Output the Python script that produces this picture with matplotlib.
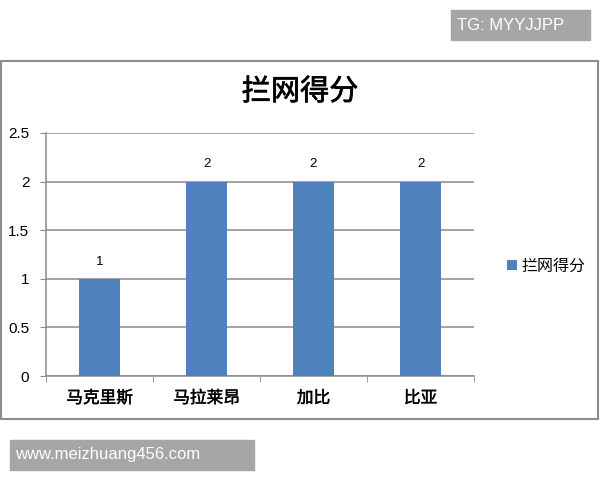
import matplotlib.pyplot as plt
import matplotlib.patheffects as pe
from matplotlib.patches import Rectangle

plt.rcParams['font.family'] = ['Noto Sans CJK SC', 'DejaVu Sans']

players = ['马克里斯', '马拉莱昂', '加比', '比亚']
scores = [1, 2, 2, 2]
series_name = '拦网得分'
y_ticks = [0, 0.5, 1, 1.5, 2, 2.5]
y_tick_labels = ['0', '0.5', '1', '1.5', '2', '2.5']

W, H = 600, 480
fig = plt.figure(figsize=(6, 4.8), dpi=100)
fig.patch.set_facecolor('white')


def fx(px):
    return px / W


def fy(py):
    return 1 - py / H


# chart frame
fig.patches.append(Rectangle((fx(1), fy(419)), fx(597), (419 - 61) / H,
                             transform=fig.transFigure, fill=False,
                             edgecolor='#8c8c8c', linewidth=1.5, zorder=0))

ax = fig.add_axes([fx(46), fy(376), fx(474 - 46), (376 - 133) / H])
x = list(range(len(players)))
bars = ax.bar(x, scores, width=0.39, color='#4f81bd', label=series_name, zorder=3)
ax.set_xlim(-0.5, len(players) - 0.5)
ax.set_ylim(0, 2.5)
ax.set_yticks(y_ticks)
ax.set_yticklabels(y_tick_labels, fontsize=11, family=['Liberation Sans', 'DejaVu Sans'])
ax.yaxis.grid(True, color='#8a8a8a', linewidth=1.1, zorder=0)
ax.set_axisbelow(True)
ax.set_xticks(x)
ax.set_xticklabels(players, fontsize=12)
for lbl in ax.get_xticklabels():
    lbl.set_path_effects([pe.withStroke(linewidth=0.3, foreground='black')])
ax.set_xticks([i - 0.5 for i in range(len(players) + 1)], minor=True)
ax.tick_params(axis='x', which='major', length=0, pad=10)
ax.tick_params(axis='x', which='minor', length=4, color='#8a8a8a', direction='out')
ax.tick_params(axis='y', length=4, color='#8a8a8a', pad=8)
for s in ['top', 'right']:
    ax.spines[s].set_visible(False)
for s in ['left', 'bottom']:
    ax.spines[s].set_color('#8a8a8a')
    ax.spines[s].set_linewidth(1.1)

for b, v in zip(bars, scores):
    ax.annotate(str(v), (b.get_x() + b.get_width() / 2, v), xytext=(0, 8),
                textcoords='offset points', ha='center', va='bottom',
                fontsize=9.5, family=['Liberation Sans', 'DejaVu Sans'])

fig.text(fx(300), fy(92), series_name, ha='center', va='center',
         fontsize=21, path_effects=[pe.withStroke(linewidth=0.5, foreground='black')])

leg = fig.legend(handles=[bars], labels=[series_name], loc='center left',
                 bbox_to_anchor=(fx(493), fy(266)), frameon=False,
                 fontsize=11.5, handlelength=0.6, handleheight=0.6, handletextpad=0.3)

# watermark boxes
fig.patches.append(Rectangle((fx(451), fy(40)), fx(139), 30 / H,
                             transform=fig.transFigure, color='#a6a6a6', zorder=5))
fig.text(fx(457), fy(25), 'TG: MYYJJPP', color='white', fontsize=12,
         va='center', ha='left', family='Liberation Sans', zorder=6)
fig.patches.append(Rectangle((fx(10), fy(470)), fx(244), 30 / H,
                             transform=fig.transFigure, color='#a6a6a6', zorder=5))
fig.text(fx(15), fy(455), 'www.meizhuang456.com', color='white', fontsize=12,
         va='center', ha='left', family='Liberation Sans', zorder=6)

fig.savefig('out.png', dpi=100)
